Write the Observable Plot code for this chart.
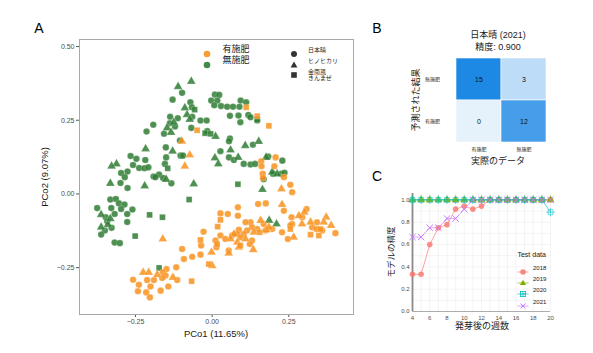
<!DOCTYPE html>
<html><head><meta charset="utf-8">
<script src="https://cdn.jsdelivr.net/npm/d3@7"></script>
<script src="https://cdn.jsdelivr.net/npm/@observablehq/plot@0.6"></script>
<style>
body{margin:0;background:#fff;}
#root{position:relative;width:593px;height:353px;overflow:hidden;font-family:"Liberation Sans","Noto Sans CJK JP",sans-serif;}
#root svg{position:absolute;overflow:visible;}
</style></head>
<body><div id="root"></div>
<script>
// ---------- Panel A data (PCo1, PCo2) ----------
const groupNames = ["有施肥", "無施肥"];
const cultivarNames = ["日本晴", "ヒノヒカリ", "金南風"];
const greenCircles = [[-0.098,0.343],[-0.129,0.320],[-0.071,0.311],[-0.066,0.294],[-0.065,0.262],[-0.137,0.262],[-0.112,0.257],[-0.138,0.240],[-0.121,0.229],[-0.157,0.204],[-0.214,0.212],[-0.192,0.235],[-0.068,0.224],[-0.038,0.249],[-0.018,0.249],[-0.105,0.181],[-0.151,0.158],[-0.103,0.130],[-0.095,0.130],[-0.150,0.124],[-0.154,0.102],[-0.266,0.129],[-0.247,0.119],[-0.258,0.098],[-0.238,0.088],[-0.221,0.087],[-0.208,0.090],[-0.218,0.115],[-0.276,0.076],[-0.297,0.071],[-0.191,0.059],[-0.173,0.066],[-0.160,0.054],[-0.133,0.036],[-0.276,0.020],[-0.299,0.037],[-0.285,0.057],[-0.185,0.057],[-0.332,-0.019],[-0.314,-0.017],[-0.304,-0.032],[-0.286,-0.036],[-0.297,-0.051],[-0.260,-0.053],[-0.277,-0.068],[-0.329,-0.048],[-0.318,-0.068],[-0.347,-0.079],[-0.375,-0.048],[-0.342,-0.093],[-0.350,-0.124],[-0.362,-0.138],[-0.328,-0.115],[-0.277,-0.095],[-0.318,-0.165],[-0.301,-0.167],[0.009,0.337],[0.023,0.336],[-0.003,0.317],[0.017,0.317],[0.007,0.301],[0.029,0.298],[0.049,0.296],[0.068,0.296],[0.089,0.296],[0.093,0.317],[0.111,0.311],[0.058,0.265],[0.086,0.266],[0.118,0.268],[0.125,0.260],[0.147,0.249],[0.092,0.243],[-0.016,0.213],[0.058,0.188],[0.055,0.179],[0.133,0.167],[0.027,0.145],[0.055,0.124],[0.071,0.115],[0.103,0.102],[0.125,0.100],[0.140,0.102],[0.183,0.127],[0.199,0.068],[0.225,0.068],[0.236,0.072],[0.229,0.113],[0.168,0.050]];
const greenTriangles = [[-0.068,0.382],[-0.111,0.364],[-0.089,0.292],[-0.082,0.269],[-0.073,0.253],[-0.125,0.243],[-0.147,0.224],[-0.134,0.209],[-0.129,0.145],[-0.217,0.153],[-0.312,0.102],[-0.328,0.094],[-0.150,0.049],[-0.220,0.027],[-0.332,0.036],[-0.060,0.034],[-0.362,-0.070],[-0.362,-0.113],[-0.340,-0.104],[-0.332,-0.084],[0.011,0.195],[0.108,0.164],[0.152,0.178],[0.060,0.149],[0.085,0.124],[0.176,0.124],[0.009,0.122],[0.020,0.102],[0.196,0.074],[0.212,0.068],[0.164,0.015],[0.186,-0.090],[0.210,-0.102]];
const greenSquares = [[-0.057,0.286],[-0.145,0.087],[-0.075,-0.019],[-0.204,-0.071],[-0.162,-0.079],[-0.251,-0.143],[-0.173,-0.251],[-0.023,0.206],[-0.005,0.204],[0.084,0.033],[0.147,0.252]];
const orangeCircles = [[0.207,0.124],[0.160,0.111],[0.161,0.094],[0.203,0.094],[0.165,0.068],[0.166,0.054],[0.234,0.057],[0.255,0.031],[0.261,0.006],[0.150,-0.034],[0.175,-0.032],[0.234,-0.057],[0.084,-0.045],[0.084,-0.074],[0.027,-0.066],[0.051,-0.068],[-0.028,-0.128],[-0.036,-0.175],[-0.098,-0.187],[-0.092,-0.221],[-0.065,-0.213],[-0.038,-0.206],[0.014,-0.181],[-0.117,-0.249],[-0.149,-0.255],[-0.161,-0.266],[-0.152,-0.277],[-0.114,-0.292],[-0.258,-0.291],[-0.212,-0.292],[-0.190,-0.292],[-0.239,-0.308],[-0.242,-0.330],[-0.201,-0.314],[-0.215,-0.334],[-0.203,-0.351],[-0.168,-0.328],[-0.143,-0.314],[-0.163,-0.285],[0.308,-0.051],[0.294,-0.079],[0.259,-0.079],[0.261,-0.102],[0.342,-0.096],[0.402,-0.133],[0.326,-0.113],[0.340,-0.119],[0.359,-0.124],[0.255,-0.107],[0.247,-0.153],[0.228,-0.130],[0.168,-0.102],[0.196,-0.119],[0.174,-0.124],[0.147,-0.119],[0.125,-0.096],[0.109,-0.096],[0.130,-0.113],[0.114,-0.124],[0.087,-0.122],[0.082,-0.136],[0.103,-0.136],[0.065,-0.141],[0.092,-0.147],[0.130,-0.158],[0.123,-0.170],[0.054,-0.192],[0.011,-0.158],[0.027,-0.141],[0.043,-0.153]];
const orangeTriangles = [[-0.099,0.179],[-0.073,0.132],[-0.089,0.094],[0.226,0.017],[0.228,-0.036],[-0.161,-0.153],[-0.002,-0.198],[0.000,-0.243],[-0.225,-0.266],[-0.207,-0.266],[-0.179,-0.274],[-0.128,-0.283],[0.301,-0.062],[0.283,-0.074],[0.293,-0.102],[0.321,-0.096],[0.372,-0.079],[0.364,-0.096],[0.388,-0.107],[0.266,-0.147],[0.158,-0.090],[0.176,-0.122],[0.185,-0.113],[0.136,-0.130],[0.109,-0.153],[0.082,-0.164],[0.071,-0.136],[0.054,-0.201],[0.134,-0.189],[0.087,-0.181],[0.060,-0.153]];
const orangeSquares = [[0.111,0.294],[0.147,0.264],[0.185,0.231],[-0.049,0.216],[0.027,-0.088],[0.018,-0.111],[-0.038,-0.156],[-0.011,-0.238],[-0.067,-0.296],[0.353,-0.119],[0.348,-0.141],[0.321,-0.138],[0.255,-0.119],[0.155,-0.130],[0.092,-0.175],[0.016,-0.170]];
const xTicksA = [-0.25, 0, 0.25];
const yTicksA = [-0.25, 0, 0.25, 0.5];

// ---------- Panel B data ----------
const actualLabels = ["有施肥", "無施肥"];
const predictedLabels = ["無施肥", "有施肥"];
const confusionCounts = [[15, 3], [0, 12]]; // rows = predicted (top, bottom), cols = actual

// ---------- Panel C data ----------
const weeks = [4,5,6,7,8,9,10,11,12,13,14,15,16,17,18,19,20];
const acc2018 = [0.333,0.333,0.600,0.750,0.778,0.917,0.944,0.917,0.944,1,1,1,1,1,1,1,1];
const acc2019 = [1,1,1,1,1,1,1,1,1,1,1,1,1,1,1,1,1];
const acc2020 = [1,1,1,1,1,1,1,1,1,1,1,1,1,1,1,1,0.889];
const acc2021 = [0.667,0.667,0.750,0.750,0.833,0.833,0.917,1,1,1,1,1,1,1,1,1,1];
const testYears = ["2018", "2019", "2020", "2021"];
const xTicksC = [4,6,8,10,12,14,16,18,20];
const yTicksC = [0,0.2,0.4,0.6,0.8,1.0];

// ---------- helpers ----------
const root = document.getElementById("root");
const FONT = '"Liberation Sans","Noto Sans CJK JP",sans-serif';
function put(svg, left, top) { svg.style.left = left + "px"; svg.style.top = top + "px"; root.appendChild(svg); }
function txt(s, cx, cy, size, o = {}) {
  const d = document.createElement("div");
  d.textContent = s;
  Object.assign(d.style, {position: "absolute", left: cx + "px", top: cy + "px", fontSize: size + "px", lineHeight: "1.1",
    whiteSpace: "pre", color: o.color || "#1a1a1a", fontWeight: o.bold ? "bold" : "normal",
    transform: `translate(${o.ax ?? -50}%, -50%)` + (o.rot ? ` rotate(${o.rot}deg)` : "")});
  root.appendChild(d);
}
function sym(html, cx, cy, w = 14, h = 10) {
  const d = document.createElement("div");
  d.innerHTML = `<svg width="${w}" height="${h}" viewBox="${-w/2} ${-h/2} ${w} ${h}" style="position:static">${html}</svg>`;
  Object.assign(d.style, {position: "absolute", left: (cx - w/2) + "px", top: (cy - h/2) + "px", width: w + "px", height: h + "px"});
  root.appendChild(d);
}

// ---------- Panel A ----------
const ORANGE = "#f8921e", GREEN = "#2f7d34";
const pts = [];
function add(arr, group, shape) { for (const [x, y] of arr) pts.push({x, y, group, shape}); }
add(greenCircles, "無施肥", "日本晴"); add(greenTriangles, "無施肥", "ヒノヒカリ"); add(greenSquares, "無施肥", "金南風");
add(orangeCircles, "有施肥", "日本晴"); add(orangeTriangles, "有施肥", "ヒノヒカリ"); add(orangeSquares, "有施肥", "金南風");

const plotA = Plot.plot({
  width: 360, height: 345, marginLeft: 79, marginRight: 7, marginTop: 39, marginBottom: 31,
  style: {fontFamily: FONT, fontSize: "7px", color: "#4d4d4d", background: "transparent"},
  x: {domain: [-0.4326, 0.461]}, y: {domain: [-0.409, 0.524]},
  color: {domain: groupNames, range: [ORANGE, GREEN]},
  symbol: {domain: cultivarNames, range: ["circle", "triangle", "square"]},
  marks: [
    Plot.axisX({ticks: xTicksA, tickFormat: d3.format(".2f"), tickSize: 3, tickPadding: 2, label: null, stroke: "#555", fill: "#4d4d4d"}),
    Plot.axisY({ticks: yTicksA, tickFormat: d3.format(".2f"), tickSize: 3, tickPadding: 2, label: null, stroke: "#555", fill: "#4d4d4d"}),
    Plot.dot(pts, {x: "x", y: "y", fill: "group", symbol: "shape", r: 3.3, fillOpacity: 0.85, stroke: "white", strokeWidth: 0.4, strokeOpacity: 0.6}),
    Plot.frame({stroke: "#a8a8a8", strokeWidth: 1})
  ]
});
put(plotA, 0, 0);
txt("A", 39, 29, 14, {color: "#000"});
txt("PCo1 (11.65%)", 216, 334, 9.5);
txt("PCo2 (9.07%)", 45, 177, 9.5, {rot: -90});
// legend A
sym(`<circle r="3.3" fill="${ORANGE}" fill-opacity="0.9"/>`, 207.3, 50);
sym(`<circle r="3.3" fill="${GREEN}" fill-opacity="0.9"/>`, 207.3, 61);
txt(groupNames[0], 222.5, 50, 9, {ax: 0});
txt(groupNames[1], 222.5, 61, 9, {ax: 0});
sym(`<circle r="3" fill="#333"/>`, 293.7, 50);
sym(`<path d="M0,-3.6L3.4,2.4L-3.4,2.4Z" fill="#333"/>`, 293.7, 60.5);
sym(`<rect x="-2.8" y="-2.8" width="5.6" height="5.6" fill="#333"/>`, 293.7, 71);
txt(cultivarNames[0], 308, 50, 6, {ax: 0});
txt(cultivarNames[1], 308, 60.5, 6, {ax: 0});
txt(cultivarNames[2] + "\nきんまぜ", 308, 75.5, 6, {ax: 0});

// ---------- Panel B ----------
const cells = [];
predictedLabels.forEach((p, i) => actualLabels.forEach((a, j) => cells.push({pred: p, actual: a, n: confusionCounts[i][j]})));
const plotB = Plot.plot({
  width: 233, height: 175, marginLeft: 95, marginRight: 47, marginTop: 58, marginBottom: 33,
  style: {fontFamily: FONT, fontSize: "5px", color: "#222", background: "transparent"},
  x: {domain: actualLabels, padding: 0}, y: {domain: predictedLabels, padding: 0},
  color: {type: "linear", domain: [0, 15], range: ["#e5f1fb", "#1e88e5"]},
  marks: [
    Plot.cell(cells, {x: "actual", y: "pred", fill: "n", stroke: "white", strokeWidth: 0.6}),
    Plot.text(cells, {x: "actual", y: "pred", text: "n", fontSize: 7, fill: "#111"}),
    Plot.axisX({tickSize: 0, tickPadding: 5, label: null, fontSize: 5}),
    Plot.axisY({tickSize: 0, tickPadding: 17, label: null, fontSize: 5, textAnchor: "middle", dx: -6})
  ]
});
put(plotB, 360, 0);
txt("B", 377, 29, 14, {color: "#000"});
txt("日本晴 (2021)", 498, 36, 9);
txt("精度: 0.900", 498, 47.5, 9);
txt("実際のデータ", 498, 161.5, 9);
txt("予測された結果", 417, 100, 9, {rot: -90});

// ---------- Panel C ----------
const COLORS = ["#F8766D", "#7CAE00", "#00BFC4", "#C77CFF"];
const series = [acc2018, acc2019, acc2020, acc2021];
const rows = [];
series.forEach((s, k) => s.forEach((v, i) => rows.push({week: weeks[i], acc: v, year: testYears[k]})));
const byYear = y => rows.filter(d => d.year === y);
const plotC = Plot.plot({
  width: 233, height: 175, marginLeft: 52, marginRight: 43, marginTop: 23, marginBottom: 34,
  style: {fontFamily: FONT, fontSize: "6px", color: "#4d4d4d", background: "transparent"},
  x: {domain: [4, 20]}, y: {domain: [0, 1.057]},
  color: {domain: testYears, range: COLORS},
  marks: [
    Plot.gridX(weeks, {stroke: "#ededed", strokeOpacity: 1, strokeWidth: 0.6}),
    Plot.gridY(d3.range(0, 1.05, 0.1), {stroke: "#ededed", strokeOpacity: 1, strokeWidth: 0.6}),
    Plot.ruleY([0], {stroke: "#9a9a9a", strokeWidth: 0.8}),
    Plot.ruleX([d3.min(weeks)], {stroke: "#8a8a8a", strokeWidth: 1.8}),
    Plot.axisX({ticks: xTicksC, tickSize: 0, tickPadding: 4, label: null, fill: "#4d4d4d"}),
    Plot.axisY({ticks: yTicksC, tickFormat: d3.format(".1f"), tickSize: 0, tickPadding: 3, label: null, fill: "#4d4d4d"}),
    Plot.line(rows, {x: "week", y: "acc", z: "year", stroke: "year", strokeWidth: 1, strokeOpacity: 0.65}),
    Plot.dot(byYear("2018"), {x: "week", y: "acc", fill: COLORS[0], r: 2.8, fillOpacity: 0.8}),
    Plot.dot(byYear("2019"), {x: "week", y: "acc", symbol: "triangle", fill: COLORS[1], r: 3, fillOpacity: 0.85}),
    Plot.dot(byYear("2020"), {x: "week", y: "acc", symbol: "square", stroke: COLORS[2], fill: "none", r: 2.8, strokeWidth: 0.7, strokeOpacity: 0.8}),
    Plot.dot(byYear("2020"), {x: "week", y: "acc", symbol: "plus", stroke: COLORS[2], r: 2.8, strokeWidth: 0.7, strokeOpacity: 0.8}),
    Plot.dot(byYear("2021"), {x: "week", y: "acc", symbol: "times", stroke: COLORS[3], r: 3, strokeWidth: 1})
  ]
});
put(plotC, 360, 170);
txt("C", 377, 177, 14, {color: "#000"});
txt("発芽後の週数", 482, 327, 9);
txt("モデルの精度", 392, 252, 8.5, {rot: -90});
// legend C
txt("Test data", 531.7, 255, 7);
const legY = [268, 279, 290, 301.5];
const legSym = [
  c => `<circle r="2.8" fill="${c}" fill-opacity="0.85"/>`,
  c => `<path d="M0,-3.2L3,2L-3,2Z" fill="${c}"/>`,
  c => `<rect x="-2.6" y="-2.6" width="5.2" height="5.2" fill="none" stroke="${c}" stroke-width="0.8"/><path d="M-2.6,0H2.6M0,-2.6V2.6" stroke="${c}" stroke-width="0.8"/>`,
  c => `<path d="M-2.4,-2.4L2.4,2.4M-2.4,2.4L2.4,-2.4" stroke="${c}" stroke-width="1"/>`
];
testYears.forEach((y, k) => {
  sym(`<line x1="-5.5" x2="5.5" stroke="${COLORS[k]}" stroke-opacity="0.65"/>` + legSym[k](COLORS[k]), 523.3, legY[k], 14, 10);
  txt(y, 533, legY[k], 6, {ax: 0, color: "#222"});
});
</script></body></html>
